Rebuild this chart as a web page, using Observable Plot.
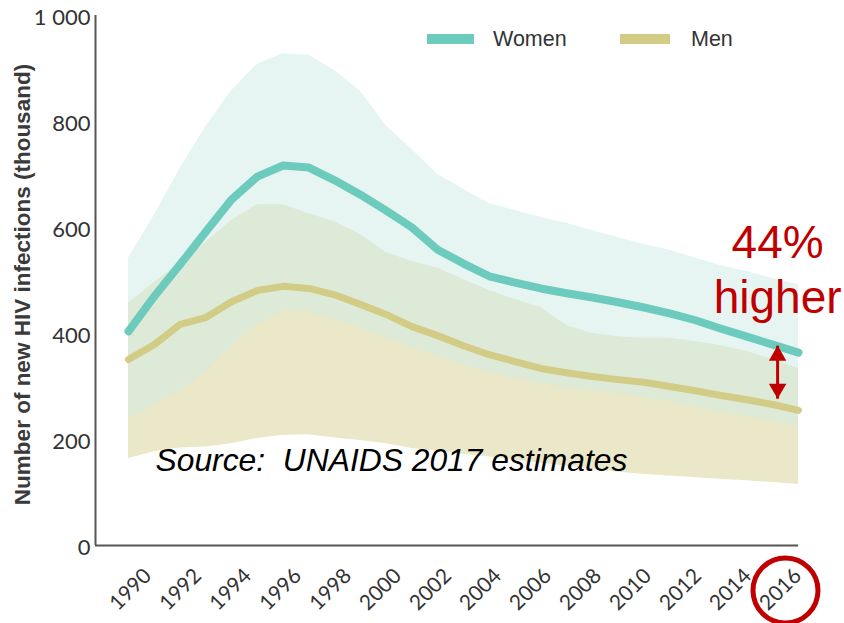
<!DOCTYPE html>
<html>
<head>
<meta charset="utf-8">
<script src="https://cdn.jsdelivr.net/npm/d3@7"></script>
<script src="https://cdn.jsdelivr.net/npm/@observablehq/plot@0.6"></script>
<style>
  html, body { margin: 0; padding: 0; background: #fff; }
  #wrap { position: relative; width: 844px; height: 623px; overflow: hidden; }
  .sw { position: absolute; height: 10px; }
  .lg { position: absolute; font-family: "Liberation Sans", Arial, sans-serif; font-size: 21.5px; color: #333; line-height: 22px; }
</style>
</head>
<body>
<div id="wrap"></div>
<script>
// ---- data (thousands of new HIV infections) ----
const years = [1990,1991,1992,1993,1994,1995,1996,1997,1998,1999,2000,2001,2002,2003,2004,2005,2006,2007,2008,2009,2010,2011,2012,2013,2014,2015,2016];
const women      = [404,470,530,592,653,696,717,713,689,662,632,600,558,532,508,496,485,476,468,459,449,438,425,409,394,379,364];
const womenHigh  = [542,623,711,790,858,908,928,925,896,857,792,747,700,672,645,632,619,608,594,581,568,557,542,528,517,504,492];
const womenLow   = [240,266,292,328,375,417,443,440,427,411,392,374,357,340,325,315,306,298,292,287,279,272,262,253,243,234,225];
const men        = [351,379,417,430,460,481,489,485,473,455,436,413,396,377,360,347,334,326,319,313,308,300,292,283,275,266,255];
const menHigh    = [457,496,532,572,613,643,643,626,611,587,553,536,523,502,481,464,449,415,400,394,391,391,385,377,366,351,334];
const menLow     = [164,177,184,186,192,202,208,209,203,198,192,183,178,172,167,161,155,150,144,138,134,131,128,125,122,119,115];

const xTicks = [1990,1992,1994,1996,1998,2000,2002,2004,2006,2008,2010,2012,2014,2016];
const yTicks = [0,200,400,600,800,1000];
const yTickLabels = ["0","200","400","600","800","1 000"];

const seriesNames = ["Women","Men"];
const seriesColors = ["#6dcbbd","#d3cc86"];

const yTitle = "Number of new HIV infections (thousand)";
const sourceText = "Source:  UNAIDS 2017 estimates";
const noteText = "44%\nhigher";
const noteYear = 2015.15;   // annotation anchor
const noteValue = 438;
const arrowFrom = 377, arrowTo = 277;

// ---- table built from arrays ----
const rows = years.map((year, i) => ({
  year, women: women[i], womenHigh: womenHigh[i], womenLow: womenLow[i],
  men: men[i], menHigh: menHigh[i], menLow: menLow[i]
}));

const xStart = 1988.72;
// the slide's year labels sit on a slightly tighter pitch than the data points
const labelPitch = 25 / 25.77;
const labelX = d => 1990 + 0.08 + (d - 1990) * labelPitch;

const chart = Plot.plot({
  width: 844,
  height: 623,
  marginLeft: 95,
  marginRight: 46,
  marginTop: 15,
  marginBottom: 78,
  style: {fontFamily: "Lato, 'Open Sans', sans-serif", background: "transparent", overflow: "visible"},
  x: {domain: [xStart, 2016], axis: null},
  y: {domain: [0, 1000], axis: null},
  marks: [
    // uncertainty bands
    Plot.areaY(rows, {x: "year", y1: "menLow", y2: "menHigh", fill: "#eae8c8"}),
    Plot.areaY(rows, {x: "year", y1: "womenLow", y2: "womenHigh", fill: "#cdebe5", fillOpacity: 0.5}),
    // axis lines
    Plot.ruleX([xStart], {y1: 0, y2: 1000, stroke: "#555", strokeWidth: 2}),
    Plot.ruleY([0], {x1: xStart, x2: 2016, stroke: "#555", strokeWidth: 2}),
    // lines
    Plot.lineY(rows, {x: "year", y: "men", stroke: seriesColors[1], strokeWidth: 7}),
    Plot.lineY(rows, {x: "year", y: "women", stroke: seriesColors[0], strokeWidth: 8}),
    // y tick labels
    Plot.text(yTicks, {x: xStart, y: d => d, text: (d, i) => yTickLabels[i], textAnchor: "end", dx: -5, dy: 2, fontSize: 22, fill: "#333"}),
    // x tick labels
    Plot.text(xTicks, {x: labelX, y: 0, text: d => String(d), rotate: -45, textAnchor: "middle", dy: 44, fontSize: 21, fill: "#333"}),
    // y title
    Plot.text([yTitle], {frameAnchor: "left", text: d => d, rotate: -90, textAnchor: "middle", dx: -73, dy: 4, fontSize: 22.5, fontWeight: "bold", fontFamily: "'Liberation Sans', Arial, sans-serif", fill: "#3a3a3a"}),
    // source
    Plot.text([sourceText], {frameAnchor: "bottom-left", text: d => d, dx: 60, dy: -75, lineAnchor: "bottom", textAnchor: "start", fontSize: 31.8, fontStyle: "italic", fontFamily: "'Liberation Sans', Arial, sans-serif", fill: "#000"}),
    // 44% higher
    Plot.text([noteText], {x: noteYear, y: noteValue, text: d => d, lineAnchor: "bottom", textAnchor: "middle", lineHeight: 1.2, fontSize: 46, fontFamily: "'Liberation Sans', Arial, sans-serif", fill: "#c00000", dx: 1}),
    // double arrow
    Plot.link([0], {x1: noteYear, x2: noteYear, y1: arrowFrom, y2: arrowTo, stroke: "#c00000", strokeWidth: 3, dx: 1}),
    Plot.dot([0], {x: noteYear, y: arrowFrom, symbol: "triangle", r: 6.5, fill: "#c00000", stroke: "none", dy: 10, dx: 1}),
    Plot.dot([0], {x: noteYear, y: arrowTo, symbol: "triangle", r: 6.5, fill: "#c00000", stroke: "none", rotate: 180, dy: -10, dx: 1}),
    // circle around 2016
    Plot.dot([2016], {x: d => d, y: 0, r: 32.5, stroke: "#c00000", strokeWidth: 5, fill: "none", dx: -13, dy: 45})
  ]
});

const wrap = document.getElementById("wrap");
wrap.appendChild(chart);

// legend
const legendPos = [{sw: 427, w: 47, tx: 493}, {sw: 620, w: 50, tx: 691}];
seriesNames.forEach((name, i) => {
  const s = document.createElement("div");
  s.className = "sw";
  s.style.left = legendPos[i].sw + "px";
  s.style.top = "34px";
  s.style.width = legendPos[i].w + "px";
  s.style.background = seriesColors[i];
  wrap.appendChild(s);
  const t = document.createElement("div");
  t.className = "lg";
  t.style.left = legendPos[i].tx + "px";
  t.style.top = "28px";
  t.textContent = name;
  wrap.appendChild(t);
});
</script>
</body>
</html>
